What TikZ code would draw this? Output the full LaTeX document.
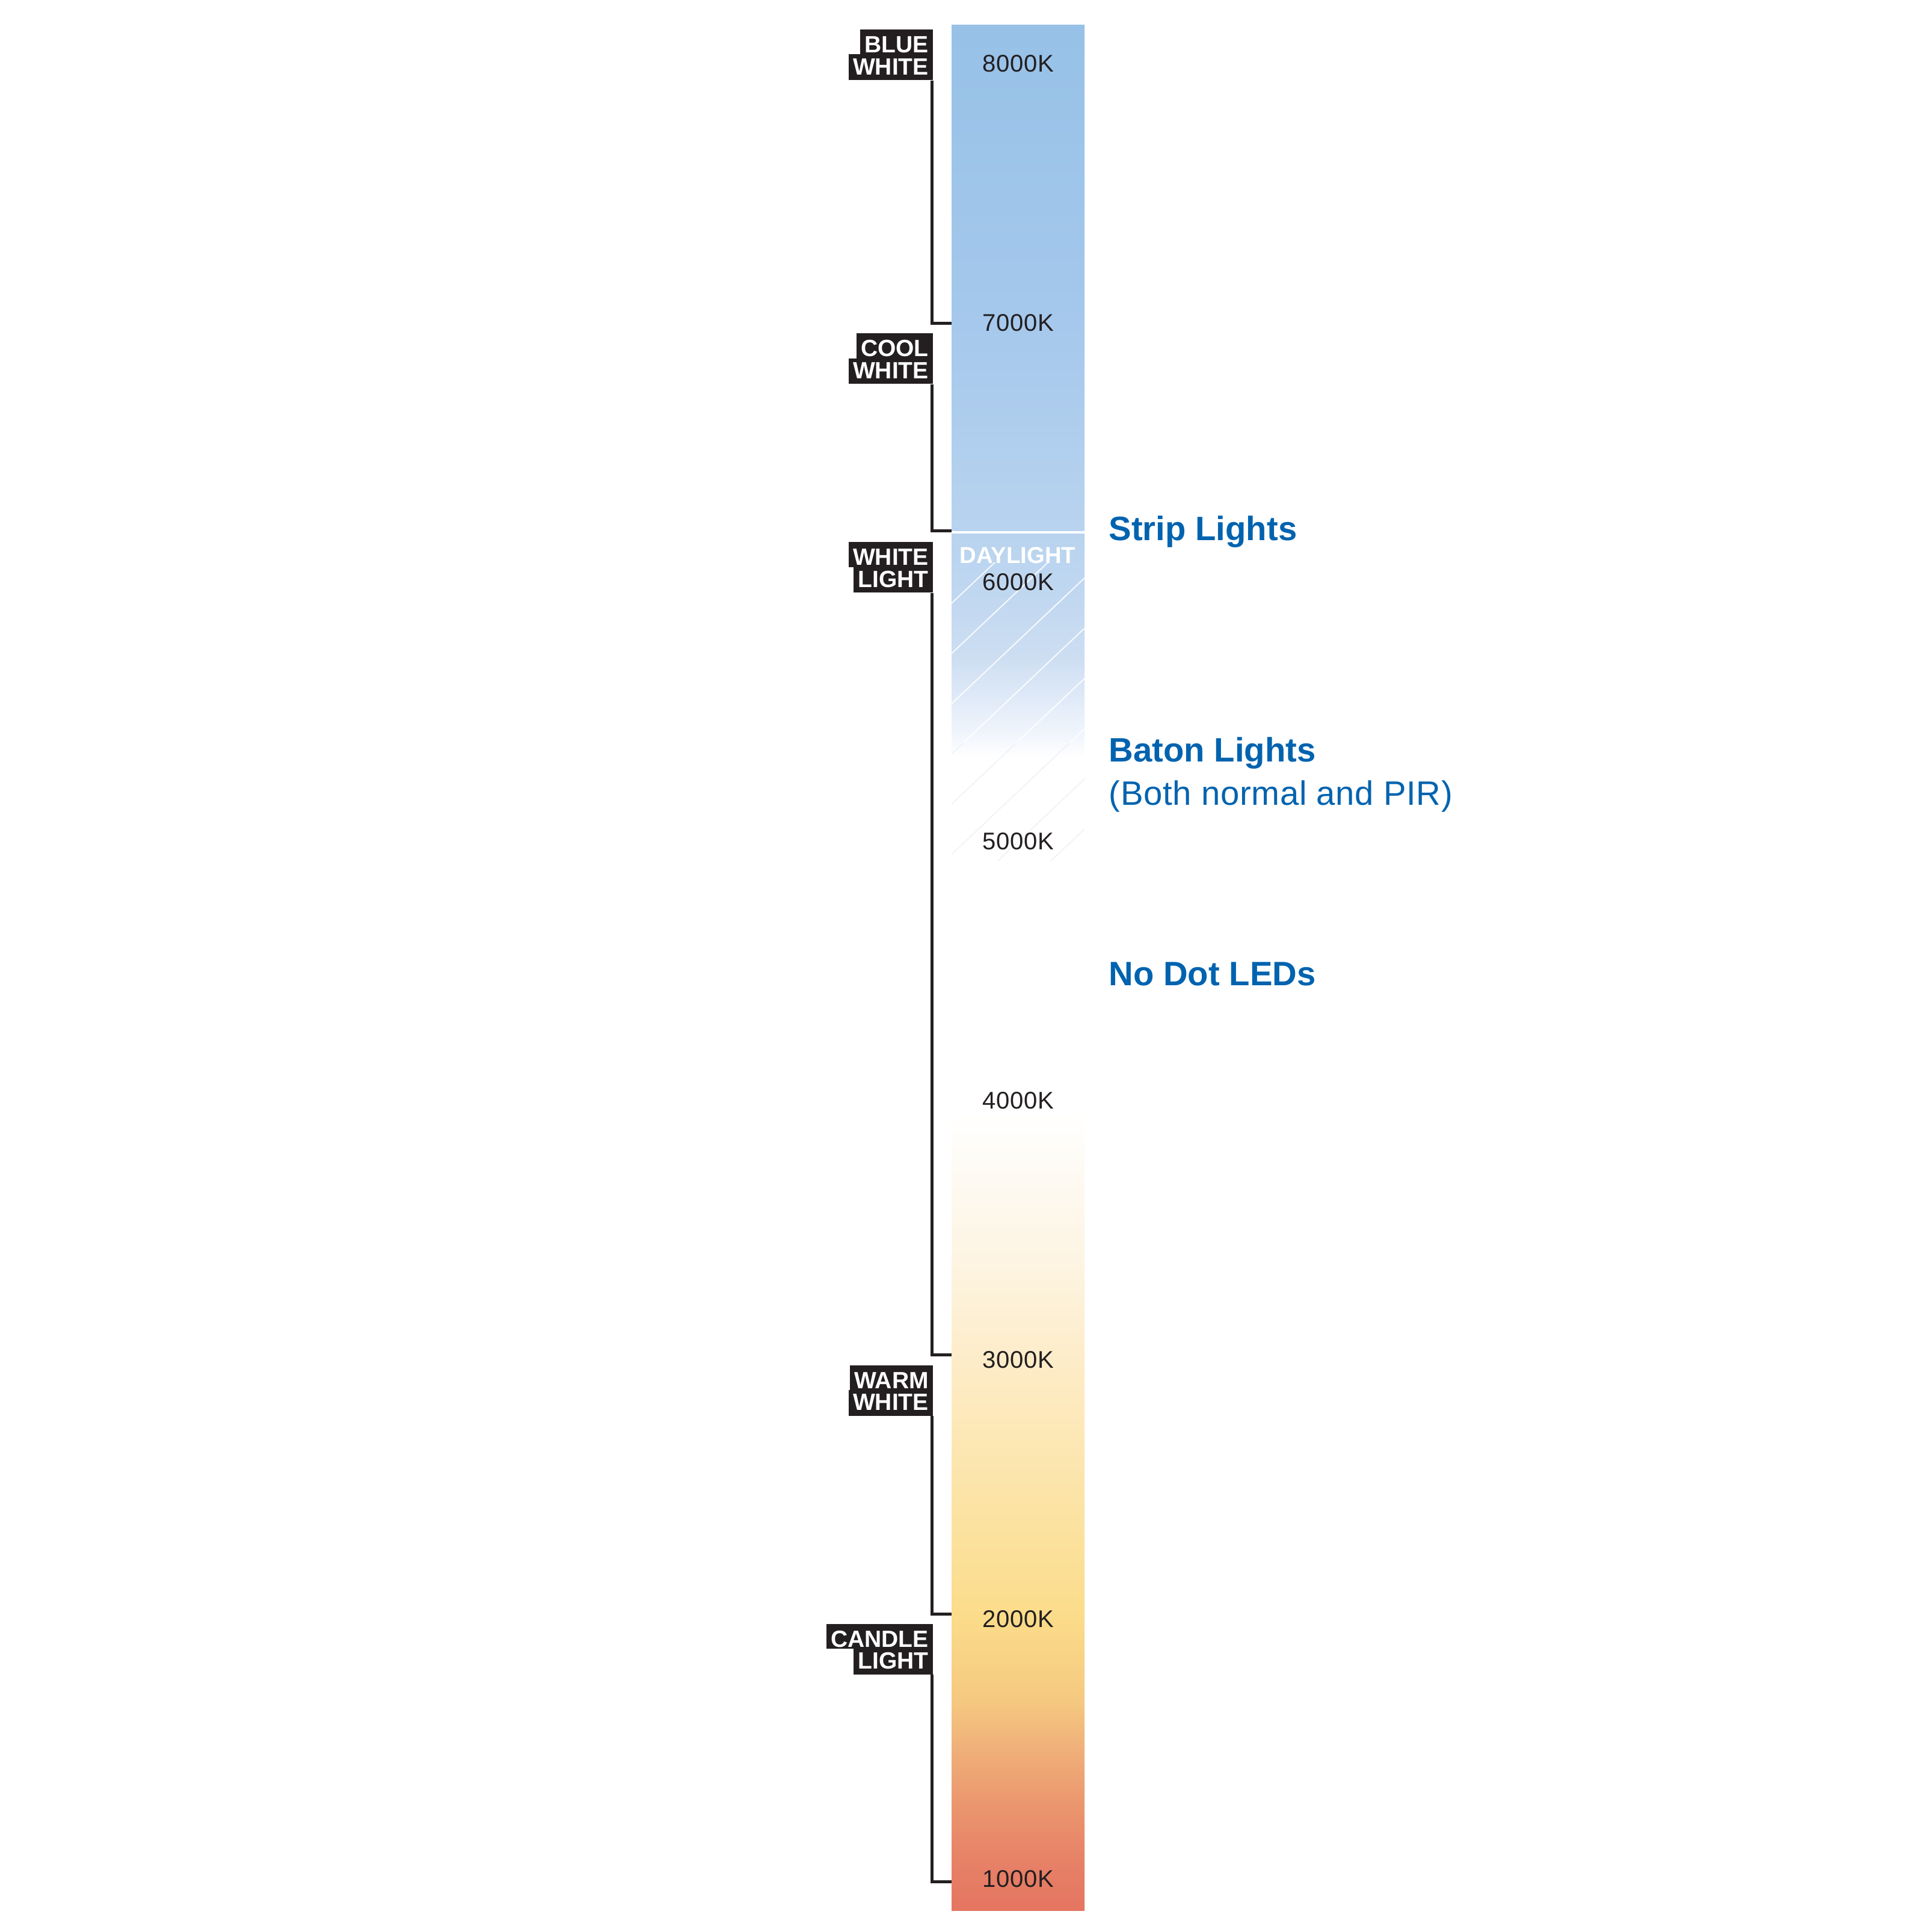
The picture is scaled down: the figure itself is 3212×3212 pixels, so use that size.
\documentclass[tikz,border=0pt]{standalone}
\usepackage{fontspec}
\setmainfont{Liberation Sans}
\newfontfamily\kfamily[LetterSpace=1.5]{Liberation Sans}
\newfontfamily\subfamily[LetterSpace=1.2]{Liberation Sans}
\usetikzlibrary{calc}

\definecolor{ink}{RGB}{35,31,32}
\definecolor{navy}{RGB}{0,99,175}
\definecolor{hatchgrey}{RGB}{239,241,246}
\definecolor{g0}{RGB}{229,117,97}
\definecolor{g1}{RGB}{230,128,102}
\definecolor{g2}{RGB}{235,150,110}
\definecolor{g3}{RGB}{240,178,122}
\definecolor{g4}{RGB}{245,200,128}
\definecolor{g5}{RGB}{251,220,138}
\definecolor{g6}{RGB}{252,228,168}
\definecolor{g7}{RGB}{253,236,200}
\definecolor{g8}{RGB}{253,244,226}
\definecolor{g9}{RGB}{255,255,255}
\definecolor{g11}{RGB}{240,245,252}
\definecolor{g12}{RGB}{225,235,248}
\definecolor{g13}{RGB}{205,222,242}
\definecolor{g14}{RGB}{192,215,240}
\definecolor{g15}{RGB}{184,211,239}
\definecolor{g16}{RGB}{165,200,236}
\definecolor{g17}{RGB}{151,193,231}

\pgfdeclareverticalshading{ctemp}{100bp}{%
color(0bp)=(g0); color(25bp)=(g0); color(26.21bp)=(g1); color(27.81bp)=(g2);
color(29.40bp)=(g3); color(30.52bp)=(g4); color(32.75bp)=(g5); color(36.10bp)=(g6);
color(39.58bp)=(g7); color(42.17bp)=(g8); color(46.16bp)=(g9); color(55.57bp)=(g9);
color(56.22bp)=(g11); color(57.07bp)=(g12); color(58.22bp)=(g13); color(59.92bp)=(g14);
color(61.60bp)=(g15); color(67.10bp)=(g16); color(75bp)=(g17); color(100bp)=(g17)}

\tikzset{
  tag/.style={fill=ink, text=white, inner xsep=0.075cm, inner ysep=0pt,
    anchor=north east, font=\bfseries\fontsize{11.1pt}{12pt}\selectfont},
  tagtop/.style={tag, minimum height=0.415cm, text height=0.357cm, text depth=0pt},
  tagbot/.style={tag, minimum height=0.424cm, text height=0.28cm, text depth=0.03cm},
  kelvin/.style={anchor=base, inner sep=0pt, text=ink,
    font=\kfamily\fontsize{11.4pt}{13pt}\selectfont},
  bracket/.style={draw=ink, line width=0.05cm, miter limit=10},
  product/.style={anchor=base west, inner sep=0pt, text=navy,
    font=\bfseries\fontsize{16pt}{19pt}\selectfont},
  productsub/.style={anchor=base west, inner sep=0pt, text=navy,
    font=\subfamily\fontsize{16pt}{19pt}\selectfont},
}

\begin{document}
\begin{tikzpicture}[x=0.01cm, y=-0.01cm]
\useasboundingbox[fill=white] (0,0) rectangle (3212,3212);

% tick points on the bar
\coordinate (t7) at (1582,537);
\coordinate (tD) at (1582,882);
\coordinate (t3) at (1582,2252);
\coordinate (t2) at (1582,2683);
\coordinate (t1) at (1582,3128);

% labels
\node[tagtop] (bw1) at (1552,48.3) {BLUE};
\node[tagbot] (bw2) at ([yshift=0.015cm]bw1.south east) {WHITE};
\node[tagtop] (cw1) at (1552,553.5) {COOL};
\node[tagbot] (cw2) at ([yshift=0.015cm]cw1.south east) {WHITE};
\node[tagtop] (wl1) at (1552,900.5) {WHITE};
\node[tagbot] (wl2) at ([yshift=0.015cm]wl1.south east) {LIGHT};
\node[tagtop] (ww1) at (1552,2269) {WARM};
\node[tagbot] (ww2) at ([yshift=0.015cm]ww1.south east) {WHITE};
\node[tagtop] (cl1) at (1552,2699) {CANDLE};
\node[tagbot] (cl2) at ([yshift=0.015cm]cl1.south east) {LIGHT};

% brackets
\draw[bracket] ([xshift=-0.025cm]bw2.south east) |- (t7);
\draw[bracket] ([xshift=-0.025cm]cw2.south east) |- (tD);
\draw[bracket] ([xshift=-0.025cm]wl2.south east) |- (t3);
\draw[bracket] ([xshift=-0.025cm]ww2.south east) |- (t2);
\draw[bracket] ([xshift=-0.025cm]cl2.south east) |- (t1);

% colour bar
\shade[shading=ctemp] (1582,42) rectangle (1803,3176);
\draw[white, line width=0.04cm] (1582,885) -- (1803,885);

% hatch in daylight zone
\begin{scope}
  \clip (1582,935) rectangle (1803,1235);
  \foreach \k in {0,...,7}
    \draw[white, line width=0.02cm, opacity=0.85] (1582,{1003+83.5*\k}) -- ++(221,-209);
\end{scope}
\begin{scope}
  \clip (1582,1235) rectangle (1803,1430);
  \foreach \k in {0,...,7}
    \draw[hatchgrey, line width=0.015cm] (1582,{1003+83.5*\k}) -- ++(221,-209);
\end{scope}

% kelvin values
\node[kelvin] (k8) at (1693,119.5) {8000K};
\node[kelvin] (k7) at (1693,550.5) {7000K};
\node[kelvin] (k6) at (1693,981.5) {6000K};
\node[kelvin] (k5) at (1693,1412.5) {5000K};
\node[kelvin] (k4) at (1693,1843.5) {4000K};
\node[kelvin] (k3) at (1693,2274.5) {3000K};
\node[kelvin] (k2) at (1693,2705.5) {2000K};
\node[kelvin] (k1) at (1693,3137.5) {1000K};
\node[anchor=base, inner sep=0pt, text=white,
  font=\bfseries\fontsize{10.9pt}{12pt}\selectfont] (day) at (1692,936) {DAYLIGHT};

% product labels
\node[product] (strip) at (1843,898) {Strip Lights};
\node[product] (baton) at (1843,1266) {Baton Lights};
\node[productsub] (batonsub) at (1843,1338) {(Both normal and PIR)};
\node[product] (nodot) at (1843,1638) {No Dot LEDs};
\end{tikzpicture}
\end{document}
